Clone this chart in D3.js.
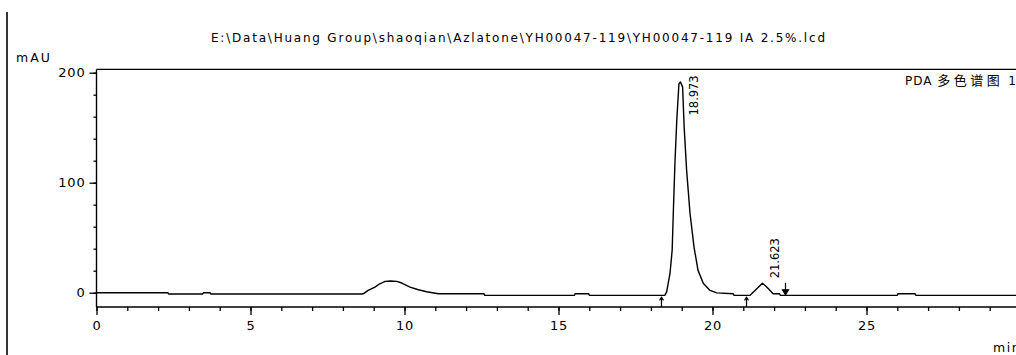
<!DOCTYPE html>
<html>
<head>
<meta charset="utf-8">
<script src="https://cdn.jsdelivr.net/npm/d3@7/dist/d3.min.js"></script>
<style>
  html, body { margin: 0; padding: 0; background: #fff; }
  svg { display: block; }
  text { font-family: "DejaVu Sans", "Noto Sans CJK SC", sans-serif; fill: #000; }
</style>
</head>
<body>
<svg id="chart" width="1016" height="355"></svg>
<script>
// Chromatogram trace: retention time (min) and detector response (mAU)
const rtMin = [
  0, 2.32, 2.34, 3.45, 3.47, 3.69, 3.71, 8.62,
  8.66, 8.82, 9.04, 9.20, 9.37, 9.55, 9.75, 9.91, 10.18, 10.45, 10.72, 11.10,
  12.58, 12.60, 15.52, 15.54, 15.98, 16.00,
  18.45, 18.51, 18.62, 18.69, 18.73, 18.78, 18.84, 18.91, 18.96, 19.03, 19.08,
  19.16, 19.27, 19.40, 19.53, 19.70, 19.92, 20.14, 20.67, 20.70,
  21.22, 21.38, 21.62, 21.76, 21.97, 22.18, 22.20,
  26.00, 26.02, 26.58, 26.60, 30
];
const mAU = [
  0, 0, -1.2, -1.2, 0, 0, -1.2, -1.2,
  -1.0, 2.1, 5.1, 8.1, 10.3, 10.6, 10.3, 8.8, 5.1, 2.7, 0.9, -1.0,
  -1.0, -2.4, -2.4, -1.0, -1.0, -2.4,
  -2.4, 0.5, 17.5, 38.5, 74.8, 117.5, 156.6, 190, 191.5, 186.9, 150.5,
  111.2, 72.1, 41.5, 20.3, 8.5, 2.1, -0.2, -0.9, -2.4,
  -2.4, 2.1, 8.6, 5.1, -0.9, -0.9, -2.4,
  -2.4, -1.0, -1.0, -2.4, -2.4
];

// Integrated peaks (retention time labels) and integration markers
const peakRt = [18.973, 21.623];
const peakStartRt = [18.32, 21.10];
const peakEndRt = [22.35];

// Axis ticks
const xMajorTicks = [0, 5, 10, 15, 20, 25];
const xMinorTicks = d3.range(0, 31, 1);
const yMajorTicks = [0, 100, 200];
const yMinorTicks = d3.range(0, 201, 20);

const titleText = "E:\\Data\\Huang Group\\shaoqian\\Azlatone\\YH00047-119\\YH00047-119 IA 2.5%.lcd";
const channelParts = ["PDA ", "多色谱图", " 1 254nm,4nm (1.00)"];

const svg = d3.select("#chart");

const x = d3.scaleLinear().domain([0, 30]).range([96.5, 1020.5]);
const y = d3.scaleLinear().domain([-13, 203]).range([307, 69.4]);

// page border on the left
svg.append("line")
  .attr("x1", 7).attr("x2", 7).attr("y1", 12).attr("y2", 355)
  .attr("stroke", "#000").attr("stroke-width", 1.6);

// title
svg.append("text")
  .attr("x", 518).attr("y", 42)
  .attr("text-anchor", "middle")
  .attr("font-size", 12)
  .attr("textLength", 614)
  .attr("lengthAdjust", "spacing")
  .text(titleText);

// unit label
svg.append("text")
  .attr("x", 16).attr("y", 62)
  .attr("font-size", 12.5)
  .attr("letter-spacing", 2)
  .text("mAU");

// plot frame: top edge, left axis, bottom axis
const frame = svg.append("g").attr("stroke", "#000").attr("stroke-width", 1.4);
frame.append("line").attr("x1", x(0)).attr("x2", 1016).attr("y1", y.range()[1]).attr("y2", y.range()[1]);
frame.append("line").attr("x1", x(0)).attr("x2", x(0)).attr("y1", y.range()[1]).attr("y2", y.range()[0]);
frame.append("line").attr("x1", x(0)).attr("x2", 1016).attr("y1", y.range()[0]).attr("y2", y.range()[0]);

// y axis ticks
const yMinor = svg.append("g").attr("transform", `translate(${x(0)},0)`)
  .call(d3.axisLeft(y).tickValues(yMinorTicks).tickSize(3).tickFormat(""));
const yMajor = svg.append("g").attr("transform", `translate(${x(0)},0)`)
  .call(d3.axisLeft(y).tickValues(yMajorTicks).tickSize(7).tickPadding(4));
[yMinor, yMajor].forEach(g => {
  g.select(".domain").remove();
  g.selectAll("line").attr("stroke", "#000").attr("stroke-width", 1.3);
});
yMajor.selectAll("text")
  .attr("font-family", "DejaVu Sans")
  .attr("font-size", 13)
  .attr("letter-spacing", 0.8)
  .attr("fill", "#000");

// x axis ticks
const xMinor = svg.append("g").attr("transform", `translate(0,${y.range()[0]})`)
  .call(d3.axisBottom(x).tickValues(xMinorTicks).tickSize(4).tickFormat(""));
const xMajor = svg.append("g").attr("transform", `translate(0,${y.range()[0]})`)
  .call(d3.axisBottom(x).tickValues(xMajorTicks).tickSize(8).tickPadding(6));
[xMinor, xMajor].forEach(g => {
  g.select(".domain").remove();
  g.selectAll("line").attr("stroke", "#000").attr("stroke-width", 1.3);
});
xMajor.selectAll("text")
  .attr("font-family", "DejaVu Sans")
  .attr("font-size", 13)
  .attr("letter-spacing", 0.8)
  .attr("fill", "#000");

svg.append("text")
  .attr("x", 993).attr("y", 352)
  .attr("font-size", 12.5)
  .attr("letter-spacing", 1.5)
  .text("min");

// channel caption
const caption = svg.append("text")
  .attr("x", 905).attr("y", 85)
  .attr("font-size", 12)
  .attr("letter-spacing", 1);
caption.append("tspan").text(channelParts[0]);
caption.append("tspan").attr("font-size", 13).attr("letter-spacing", 3.5).text(channelParts[1]);
caption.append("tspan").text(channelParts[2]);

// chromatogram trace
const trace = rtMin.map((t, i) => ({ t, v: mAU[i] }));
svg.append("path")
  .datum(trace)
  .attr("fill", "none")
  .attr("stroke", "#000")
  .attr("stroke-width", 1.4)
  .attr("stroke-linejoin", "round")
  .attr("d", d3.line().x(d => x(d.t)).y(d => y(d.v)));

// integration markers: peak start (up arrows from the axis) and peak end (down arrow)
const baselineAt = t => d3.scaleLinear().domain(rtMin).range(mAU)(t);
const marks = svg.append("g").attr("stroke", "#000").attr("stroke-width", 1.2).attr("fill", "#000");
peakStartRt.forEach(t => {
  const px = Math.round(x(t)) + 0.5;
  const top = y(baselineAt(t)) + 2;
  marks.append("line").attr("x1", px).attr("x2", px).attr("y1", y.range()[0]).attr("y2", top);
  marks.append("path").attr("d", `M${px - 2},${top + 3}L${px},${top}L${px + 2},${top + 3}`).attr("fill", "none");
});
peakEndRt.forEach(t => {
  const px = Math.round(x(t)) + 0.5;
  const bottom = y(baselineAt(t)) - 0.5;
  marks.append("line").attr("x1", px).attr("x2", px).attr("y1", bottom - 12).attr("y2", bottom - 3);
  marks.append("path").attr("d", `M${px - 3},${bottom - 5}L${px},${bottom}L${px + 3},${bottom - 5}Z`);
});

// retention time labels, rotated, placed beside each peak apex
const apexValue = rt => {
  let best = -Infinity;
  rtMin.forEach((t, i) => { if (Math.abs(t - rt) < 0.15) best = Math.max(best, mAU[i]); });
  return best;
};
const labelLen = 40;
const plotTop = y.range()[1] + 6;
peakRt.forEach(rt => {
  const lx = x(rt) + 17;
  let ly = y(apexValue(rt)) - 5;
  if (ly - labelLen < plotTop) ly = plotTop + labelLen;
  svg.append("text")
    .attr("transform", `translate(${lx},${ly}) rotate(-90)`)
    .attr("font-size", 11.5)
    .attr("textLength", labelLen)
    .attr("lengthAdjust", "spacing")
    .text(rt.toFixed(3));
});
</script>
</body>
</html>
